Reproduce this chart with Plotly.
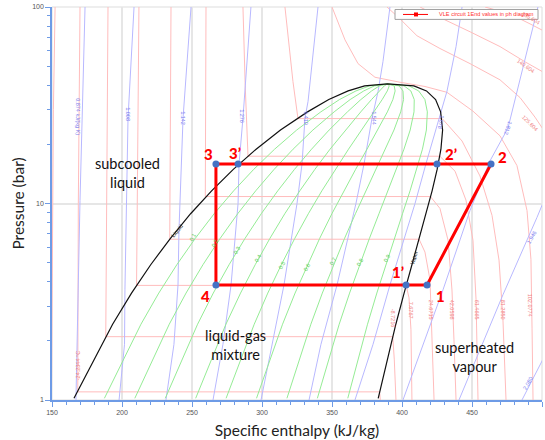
import numpy as np
import plotly.graph_objects as go

# ---------------- data ----------------
# saturation dome (R134a): pressure (bar), sat. liquid / sat. vapour enthalpy (kJ/kg)
SAT_P = [1.02, 2.43, 3.50, 4.88, 6.65, 8.87, 11.60, 14.91, 18.90, 23.65, 29.26, 33.80, 37.40, 39.70, 40.59]
SAT_H_LIQ = [165.7, 193.3, 206.8, 220.5, 234.6, 249.0, 264.0, 279.5, 295.8, 313.2, 332.5, 347.7, 361.5, 373.3, 389.6]
SAT_H_VAP = [383.0, 395.6, 401.5, 407.1, 412.3, 417.2, 421.5, 425.1, 427.8, 429.0, 427.6, 424.0, 417.5, 408.5, 389.6]
QUALITIES = [0.1, 0.2, 0.3, 0.4, 0.5, 0.6, 0.7, 0.8, 0.9]

# isotherms (h kJ/kg, p bar)
ISO_LABELS = ["", "-24.2344 °C", "-8.7216", "7.6767", "24.6715", "42.0598", "61.4665", "81.2850",
              "102.0774", "125.604", "140.604", "155.604"]
ISO0_H = [149.6, 150.2, 151.0, 152.2]
ISO0_P = [1.0, 3.0, 30.0, 100.0]
ISO1_H = [170.0, 168.8, 168.4, 384.0, 384.5]
ISO1_P = [100, 10, 1.1, 1.1, 1.0]
ISO2_H = [190.0, 189.3, 188.4, 393.4, 394.5, 395.7]
ISO2_P = [100, 10, 2.1, 2.1, 1.6, 1.0]
ISO3_H = [212.1, 211.2, 210.4, 403.0, 405.0, 406.4, 407.1]
ISO3_P = [100, 10, 3.83, 3.83, 3.31, 2.28, 1.0]
ISO4_H = [235.0, 234.6, 234.1, 412.2, 416.4, 420.0, 421.4, 422.9]
ISO4_P = [100, 20, 6.58, 6.58, 5.66, 4.08, 2.28, 1.0]
ISO5_H = [260.0, 259.5, 420.3, 427.1, 432.9, 435.7, 437.1, 438.6]
ISO5_P = [100, 10.85, 10.85, 9.44, 6.5, 3.63, 2.04, 1.0]
ISO6_H = [286.4, 288.0, 290.0, 427.0, 437.9, 445.7, 450.7, 452.9, 454.3]
ISO6_P = [100, 40, 17.4, 17.4, 14.6, 10.4, 6.5, 3.24, 1.0]
ISO7_H = [316.4, 322.1, 325.7, 428.7, 442.9, 455.7, 464.3, 469.3, 472.1, 474.3]
ISO7_P = [100, 41.8, 27.05, 27.05, 20.8, 13.8, 8.7, 5.15, 2.57, 1.0]
ISO8_H = [350.0, 359.3, 368.6, 380.7, 398.6, 416.4, 432.1, 450.7, 470.0, 482.1, 489.3, 492.1, 492.9, 493.6]
ISO8_P = [100, 68, 51.5, 43.9, 41.4, 39.4, 36.8, 29.5, 22.1, 15.6, 9.2, 5.2, 2.3, 1.0]
ISO9_H = [389.3, 398.6, 410.7, 427.1, 448.6, 470.0, 484.3, 495.0, 502.1]
ISO9_P = [100, 87.0, 71.4, 61.5, 51.5, 42.6, 34.6, 27.5, 23.1]
ISO10_H = [412.9, 430.7, 448.6, 470.0, 487.9, 502.1]
ISO10_P = [100, 86.0, 74.8, 62.9, 52.6, 46.1]
ISO11_H = [459.3, 477.1, 491.4, 502.1]
ISO11_P = [100, 92.2, 82.1, 75.0]

# isentropes (kJ/(kg K))
ISE_LABELS = ["0.874 kJ/(kg K)", "1.008", "1.142", "1.276", "1.410", "1.544", "1.678", "1.812", "1.946", "2.080"]
ISE0_H = [167.1, 170.0, 173.6]
ISE0_P = [1.0, 10.35, 100]
ISE1_H = [197.9, 201.8, 202.1, 204.3, 208.6]
ISE1_P = [1.0, 1.92, 3.64, 27.2, 100]
ISE2_H = [231.4, 237.1, 240.0, 240.7, 243.6, 249.3]
ISE2_P = [1.0, 1.92, 3.85, 7.31, 27.2, 100]
ISE3_H = [265.0, 272.1, 277.9, 282.9, 283.6, 286.4, 292.1]
ISE3_P = [1.0, 1.92, 3.85, 10.0, 15.92, 27.2, 100]
ISE4_H = [299.3, 307.5, 315.7, 325.0, 328.6, 330.7, 332.9, 340.0]
ISE4_P = [1.0, 1.92, 3.85, 10.0, 15.92, 27.2, 33.1, 100]
ISE5_H = [333.6, 342.1, 353.6, 367.1, 372.9, 378.6, 382.9, 386.4, 391.4]
ISE5_P = [1.0, 1.92, 3.85, 10.0, 15.92, 27.2, 37.2, 52.7, 100]
ISE6_H = [366.4, 379.3, 391.4, 409.3, 417.1, 426.4, 432.1, 438.6, 442.9]
ISE6_P = [1.0, 1.92, 3.85, 10.0, 15.92, 27.2, 37.2, 62.8, 100]
ISE7_H = [400.7, 429.3, 448.6, 462.9, 475.7, 486.4, 497.1]
ISE7_P = [1.0, 3.64, 9.22, 16.5, 24.2, 48.6, 100]
ISE8_H = [440.7, 472.1, 496.4, 504.3]
ISE8_P = [1.0, 3.43, 8.49, 11.6]
ISE9_H = [485.7, 504.3]
ISE9_P = [1.0, 1.81]

# refrigeration cycle points
CYCLE_NAMES = ["4", "1’", "1", "2", "2’", "3’", "3"]
CYCLE_H = [267.1, 402.9, 417.9, 463.6, 425.0, 282.9, 267.1]
CYCLE_P = [3.85, 3.85, 3.85, 15.9, 15.9, 15.9, 15.9]

# ---------------- styling ----------------
PINK = "#ffbcbc"
BLUE = "#b8b8ff"
GREEN = "#95ec95"
AX = "#6e9be6"
L, T, W, H = 52, 5, 490, 396


def pp(x, y):
    return (x - L) / W, (T + H - y) / H


fig = go.Figure()


def add_line(h, p, color, width=1.0):
    fig.add_trace(go.Scatter(x=h, y=p, mode="lines", line=dict(color=color, width=width),
                             hoverinfo="skip", showlegend=False))


isotherms = [(ISO0_H, ISO0_P), (ISO1_H, ISO1_P), (ISO2_H, ISO2_P), (ISO3_H, ISO3_P), (ISO4_H, ISO4_P),
             (ISO5_H, ISO5_P), (ISO6_H, ISO6_P), (ISO7_H, ISO7_P), (ISO8_H, ISO8_P), (ISO9_H, ISO9_P),
             (ISO10_H, ISO10_P), (ISO11_H, ISO11_P)]
for h, p in isotherms:
    add_line(h, p, PINK)

isentropes = [(ISE0_H, ISE0_P), (ISE1_H, ISE1_P), (ISE2_H, ISE2_P), (ISE3_H, ISE3_P), (ISE4_H, ISE4_P),
              (ISE5_H, ISE5_P), (ISE6_H, ISE6_P), (ISE7_H, ISE7_P), (ISE8_H, ISE8_P), (ISE9_H, ISE9_P)]
for h, p in isentropes:
    add_line(h, p, BLUE)

hl = np.array(SAT_H_LIQ)
hv = np.array(SAT_H_VAP)
for q in QUALITIES:
    add_line(list(hl + q * (hv - hl)), SAT_P, GREEN)

dome_h = SAT_H_LIQ + SAT_H_VAP[-2::-1]
dome_p = SAT_P + SAT_P[-2::-1]
add_line(dome_h, dome_p, "#111111", 1.2)

# cycle
fig.add_trace(go.Scatter(x=CYCLE_H + CYCLE_H[:1], y=CYCLE_P + CYCLE_P[:1], mode="lines",
                         line=dict(color="#ff0000", width=3), hoverinfo="skip", showlegend=False))
fig.add_trace(go.Scatter(x=CYCLE_H, y=CYCLE_P, mode="markers",
                         marker=dict(color="#4472c4", size=7), hoverinfo="skip", showlegend=False))

ann = []
shifts = {"4": (-10, -11), "1’": (-8, 13), "1": (13, -11), "2": (11, 7), "2’": (14, 10),
          "3’": (-3, 11), "3": (-7, 10)}
for name, h, p in zip(CYCLE_NAMES, CYCLE_H, CYCLE_P):
    dx, dy = shifts[name]
    ann.append(dict(x=h, y=np.log10(p), xref="x", yref="y", text=name, showarrow=False,
                    xanchor="center", yanchor="middle",
                    xshift=dx, yshift=dy, font=dict(size=15, color="#ff0000", family="Lato Black, Lato")))


def text(t, x, y, size=6, color="#000", angle=0, family="Liberation Sans"):
    xx, yy = pp(x, y)
    ann.append(dict(x=xx, y=yy, xref="paper", yref="paper", text=t, showarrow=False, textangle=angle,
                    xanchor="center", yanchor="middle",
                    font=dict(size=size, color=color, family=family)))


# region labels
text("subcooled<br>liquid", 127, 172, 14.5, "#111", family="Lato")
text("liquid-gas<br>mixture", 235, 346, 14.5, "#111", family="Lato")
text("superheated<br>vapour", 474, 358, 14.5, "#111", family="Lato")

# isotherm labels
iso_pos = [None, (78, 367, -90), (393, 318, 90), (411, 310, 90), (431, 310, 90), (452, 310, 90),
           (477, 310, 90), (503, 310, 90), (530, 305, 90), (530, 122, 45), (526, 64, 35), (531, 16, 30)]
for lab, pos in zip(ISO_LABELS, iso_pos):
    if pos:
        text(lab, pos[0], pos[1], 5.5, "#f08080", pos[2])

# isentrope labels
ise_pos = [(78, 115, 90), (128, 113, 90), (183, 117, 90), (242, 115, 90), (306, 117, 90), (374, 117, 90),
           (441, 121, 100), (508, 127, 110), (532, 237, -60), (528, 384, -60)]
for lab, pos in zip(ISE_LABELS, ise_pos):
    text(lab, pos[0], pos[1], 5.5, "#7a7aee", pos[2])

# quality labels
q_pos = [(193, 237), (215, 243), (237, 250), (258, 258), (282, 265), (307, 267), (333, 261), (360, 262), (387, 258)]
for q, pos in zip(QUALITIES, q_pos):
    text(str(q), pos[0], pos[1], 5.5, "#55cc55", -62)

text("Liquid", 177, 231, 5.5, "#222", -50)
text("Vapor", 414, 258, 5.5, "#222", -72)

# legend (drawn)
shapes = []
x0, y0 = pp(395, 7.5)
x1, y1 = pp(538, 17.5)
shapes.append(dict(type="rect", xref="paper", yref="paper", x0=x0, x1=x1, y0=y1, y1=y0,
                   line=dict(color="#a0a0a0", width=1), fillcolor="white"))
a0, b0 = pp(403, 12.5)
a1, _ = pp(428, 12.5)
shapes.append(dict(type="line", xref="paper", yref="paper", x0=a0, x1=a1, y0=b0, y1=b0,
                   line=dict(color="#ff0000", width=1)))
m0, n0 = pp(414, 10.5)
m1, n1 = pp(418, 14.5)
shapes.append(dict(type="rect", xref="paper", yref="paper", x0=m0, x1=m1, y0=n1, y1=n0,
                   line=dict(color="#ff0000", width=0), fillcolor="#ff0000"))
lx, ly = pp(437, 12.5)
ann.append(dict(x=lx, y=ly, xref="paper", yref="paper", xanchor="left", yanchor="middle",
                text="VLE circuit 1End values in ph diagram",
                showarrow=False, font=dict(size=5.6, color="#ff3030", family="Liberation Sans")))
# plot frame (top/right)
shapes.append(dict(type="rect", xref="paper", yref="paper", x0=0, x1=1, y0=0, y1=1,
                   line=dict(color="#dddddd", width=1), layer="below"))

fig.update_layout(
    width=545, height=440,
    margin=dict(l=L, r=545 - L - W, t=T, b=440 - T - H),
    paper_bgcolor="white", plot_bgcolor="white",
    showlegend=False,
    annotations=ann, shapes=shapes,
    xaxis=dict(range=[150, 500], tick0=150, dtick=50, ticks="outside", ticklen=5, tickcolor=AX,
               showline=True, linecolor=AX, linewidth=1.5, showgrid=True, gridcolor="#e6e6e6", gridwidth=1.5,
               zeroline=False, tickfont=dict(size=7, color="#555", family="Liberation Sans"),
               minor=dict(dtick=10, tick0=150, ticks="outside", ticklen=3, tickcolor=AX, showgrid=False),
               title=dict(text="Specific enthalpy (kJ/kg)", font=dict(size=15.5, color="#222", family="Lato"),
                          standoff=10)),
    yaxis=dict(type="log", range=[0, 2], tickmode="array", tickvals=[1, 10, 100], ticktext=["1", "10", "100"],
               ticks="outside", ticklen=5, tickcolor=AX, showline=True, linecolor=AX, linewidth=1.5,
               showgrid=True, gridcolor="#e6e6e6", gridwidth=1.5, zeroline=False,
               tickfont=dict(size=7, color="#555", family="Liberation Sans"),
               minor=dict(tickmode="array", tickvals=[2, 3, 4, 5, 6, 7, 8, 9, 20, 30, 40, 50, 60, 70, 80, 90],
                          ticks="outside", ticklen=3, tickcolor=AX, showgrid=False),
               title=dict(text="Pressure (bar)", font=dict(size=15.5, color="#222", family="Lato"), standoff=4)),
)

fig.write_html("out.html")
